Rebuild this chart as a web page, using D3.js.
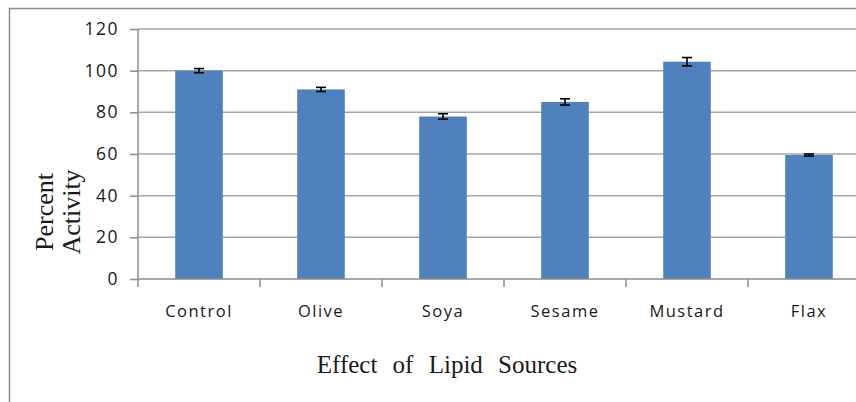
<!DOCTYPE html>
<html>
<head>
<meta charset="utf-8">
<script src="https://cdn.jsdelivr.net/npm/d3@7"></script>
<style>
  body { margin: 0; background: #fff; }
  svg { display: block; }
</style>
</head>
<body>
<div id="vis"></div>
<script>
/* data */
const sources  = ["Control", "Olive", "Soya", "Sesame", "Mustard", "Flax"];
const activity = [100, 91, 78, 85, 104.3, 59.5];
const errors   = [1, 1, 1.3, 1.5, 2, 0.5];
const yTicks   = [0, 20, 40, 60, 80, 100, 120];

const W = 856, H = 402;
const plotL = 138, plotT = 29, plotB = 279, plotR = 870;

const svg = d3.select("#vis").append("svg")
    .attr("width", W).attr("height", H);

/* outer frame (cut off right and bottom) */
svg.append("path")
    .attr("d", `M9.5,${H}V8.5H${W}`)
    .attr("fill", "none").attr("stroke", "#8c8c8c").attr("stroke-width", 1.5);

const x = d3.scaleBand().domain(sources).range([plotL, plotR]).paddingInner(0.61).paddingOuter(0.305);
const y = d3.scaleLinear().domain([0, 120]).range([plotB, plotT]);

/* gridlines */
svg.append("g")
  .selectAll("line").data(yTicks.filter(d => d > 0)).join("line")
    .attr("x1", plotL).attr("x2", W)
    .attr("y1", d => y(d)).attr("y2", d => y(d))
    .attr("stroke", "#a6a6a6").attr("stroke-width", 1.5);

/* y axis */
const yAxis = svg.append("g")
    .attr("transform", `translate(${plotL},0)`)
    .call(d3.axisLeft(y).tickValues(yTicks).tickSize(8).tickPadding(11));
yAxis.select(".domain").attr("stroke", "#8c8c8c").attr("stroke-width", 1.5).attr("d", `M0,${plotB}V${plotT}`);
yAxis.selectAll(".tick line").attr("stroke", "#8c8c8c").attr("stroke-width", 1.5);
yAxis.selectAll("text")
    .style("font-family", "'Open Sans', sans-serif").style("font-size", "17.5px")
    .style("letter-spacing", "1.5px").attr("fill", "#1a1a1a");

/* bars */
svg.append("g")
  .selectAll("rect").data(sources).join("rect")
    .attr("x", d => x(d)).attr("width", x.bandwidth())
    .attr("y", (d, i) => y(activity[i]))
    .attr("height", (d, i) => y(0) - y(activity[i]))
    .attr("fill", "#4f81bd");

/* error bars */
const eb = svg.append("g").attr("stroke", "#000").attr("stroke-width", 1.6);
sources.forEach((s, i) => {
  const cx = x(s) + x.bandwidth() / 2;
  const hi = y(activity[i] + errors[i]), lo = y(activity[i] - errors[i]);
  eb.append("line").attr("x1", cx).attr("x2", cx).attr("y1", hi).attr("y2", lo);
  eb.append("line").attr("x1", cx - 5).attr("x2", cx + 5).attr("y1", hi).attr("y2", hi);
  eb.append("line").attr("x1", cx - 5).attr("x2", cx + 5).attr("y1", lo).attr("y2", lo);
});

/* x axis */
const step = x.step();
svg.append("line")
    .attr("x1", plotL).attr("x2", W).attr("y1", plotB).attr("y2", plotB)
    .attr("stroke", "#8c8c8c").attr("stroke-width", 1.5);
svg.append("g")
  .selectAll("line").data(d3.range(sources.length + 1)).join("line")
    .attr("x1", i => plotL + i * step).attr("x2", i => plotL + i * step)
    .attr("y1", plotB).attr("y2", plotB + 8)
    .attr("stroke", "#8c8c8c").attr("stroke-width", 1.5);
svg.append("g")
  .selectAll("text").data(sources).join("text")
    .attr("x", d => x(d) + x.bandwidth() / 2).attr("y", 317)
    .attr("text-anchor", "middle")
    .style("font-family", "'Open Sans', sans-serif").style("font-size", "16.5px")
    .style("letter-spacing", "1.5px").attr("fill", "#1a1a1a")
    .text(d => d);

/* axis titles */
svg.append("text")
    .attr("x", 447).attr("y", 373).attr("text-anchor", "middle")
    .style("font-family", "'Liberation Serif', serif").style("font-size", "25px")
    .style("word-spacing", "9px").attr("fill", "#1a1a1a")
    .text("Effect of Lipid Sources");

[["Percent", 53], ["Activity", 80]].forEach(([t, cx]) => {
  svg.append("text")
      .attr("transform", `translate(${cx},212) rotate(-90)`)
      .attr("text-anchor", "middle")
      .style("font-family", "'Liberation Serif', serif").style("font-size", "26px")
      .attr("fill", "#1a1a1a")
      .text(t);
});
</script>
</body>
</html>
